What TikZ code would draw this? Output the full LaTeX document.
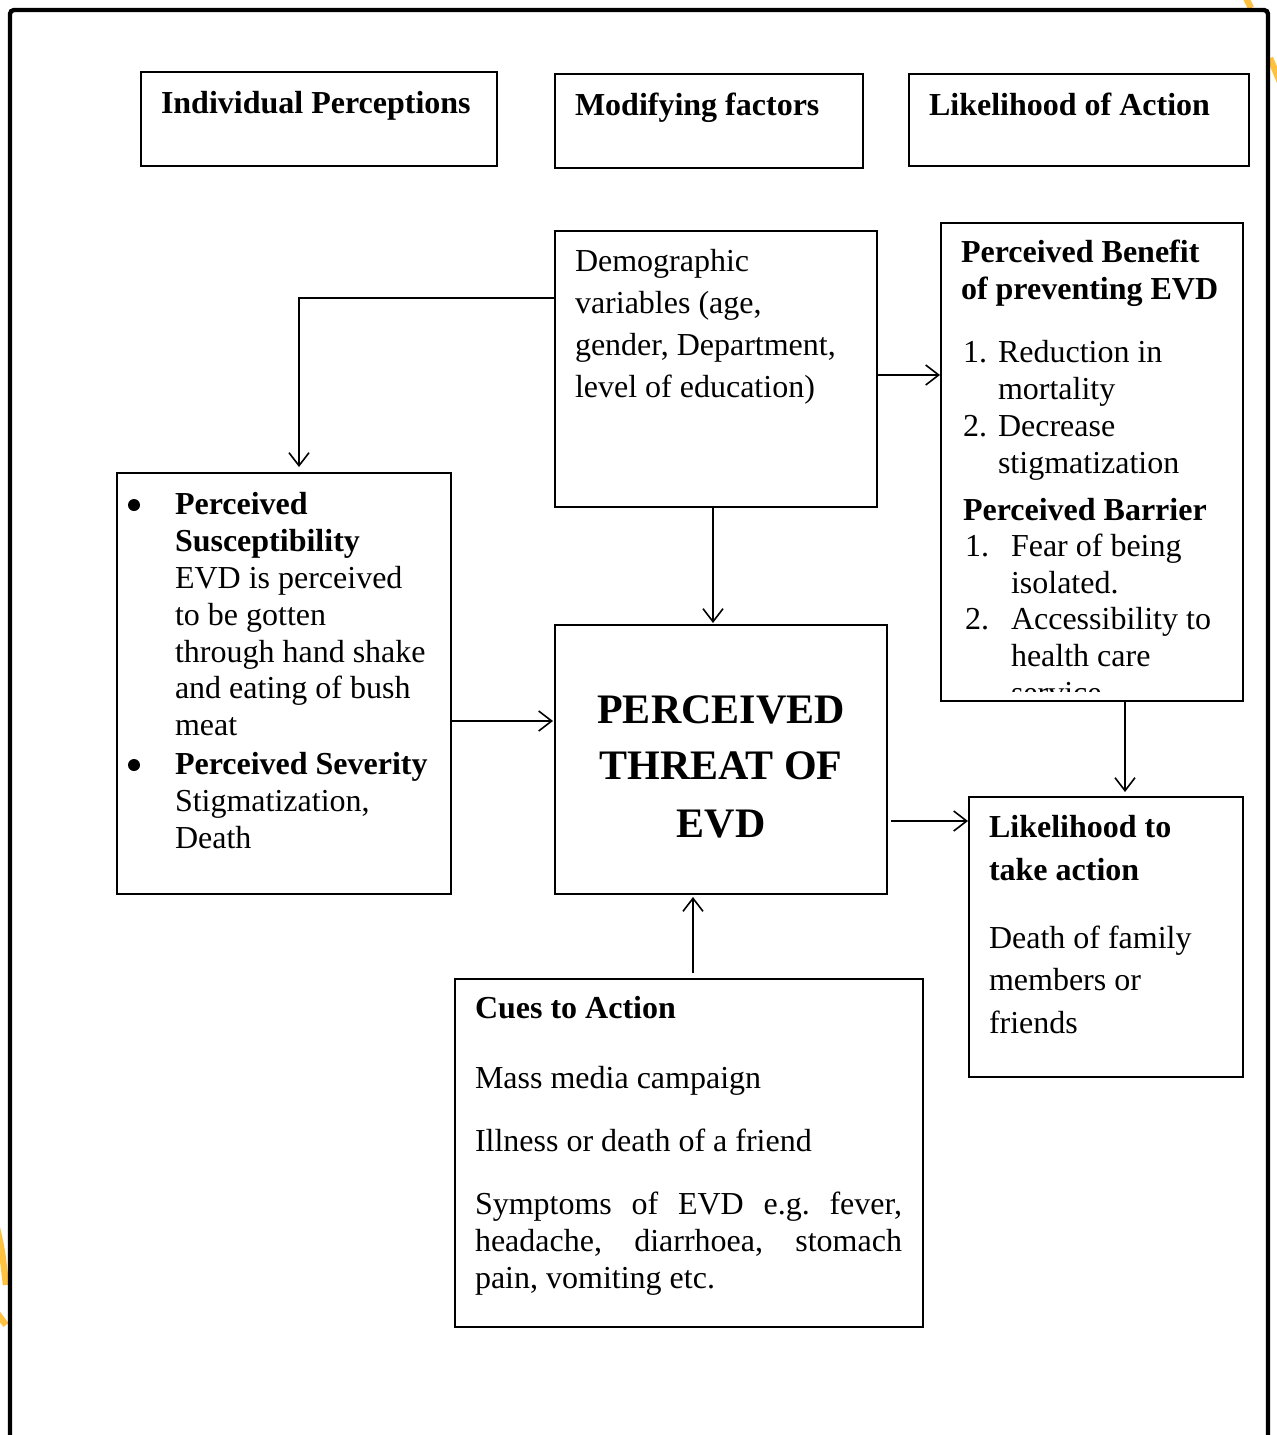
\documentclass[tikz,border=0pt]{standalone}
\usepackage{fontspec}
\setmainfont{Liberation Serif}
\usetikzlibrary{arrows.meta,calc}
\definecolor{markorange}{RGB}{255,194,64}
\begin{document}
\begin{tikzpicture}[x=0.5pt,y=-0.5pt,
  box/.style={draw, line width=0.7pt, inner sep=0pt, outer sep=0pt},
  arr/.style={-{Straight Barb[length=6.5pt,width=10pt]}, line width=0.8pt},
  txt/.style={anchor=base west, inner sep=0pt, outer sep=0pt, font=\fontsize{16}{19}\selectfont},
  btxt/.style={txt, font=\fontsize{16}{19}\selectfont\bfseries},
  big/.style={anchor=base, inner sep=0pt, outer sep=0pt, font=\fontsize{21}{25}\selectfont\bfseries},
  bul/.style={circle, fill=black, minimum size=6pt, inner sep=0pt},
  orange mark/.style={draw=markorange, line width=3.2pt}]
\useasboundingbox (0,0) rectangle (1277,1435);
% decorative orange fragments
\draw[orange mark] (1245,-4) -- (1251,8);
\draw[orange mark] (1270,58) -- (1280,82);
\draw[orange mark] (-3,1228) .. controls (2,1250) .. (6,1285);
\draw[orange mark] (-3,1313) -- (6,1325);
% outer frame
\draw[line width=2.2pt, rounded corners=2pt] (10,1436) -- (10,10) -- (1268,10) -- (1268,1436);

% header boxes
\node[box, minimum width=178pt, minimum height=47pt] (hIP) at (319,119) {};
\node[box, minimum width=154pt, minimum height=47pt] (hMF) at (709,121) {};
\node[box, minimum width=170pt, minimum height=46pt] (hLA) at (1079,120) {};
\node[btxt] (hIPt) at (161,113) {Individual Perceptions};
\node[btxt] (hMFt) at (575,115) {Modifying factors};
\node[btxt] (hLAt) at (929,115) {Likelihood of Action};

% main boxes
\node[box, minimum width=161pt, minimum height=138pt] (demo) at (716,369) {};
\node[box, minimum width=151pt, minimum height=239pt] (ben) at (1092,462) {};
\node[box, minimum width=167pt, minimum height=210.5pt] (left) at (284,683.5) {};
\node[box, minimum width=166pt, minimum height=134.5pt] (threat) at (721,759.5) {};
\node[box, minimum width=137pt, minimum height=140pt] (like) at (1106,937) {};
\node[box, minimum width=234pt, minimum height=174pt] (cues) at (689,1153) {};

% demographic text
\node[txt] (d1t) at (575,271) {Demographic};
\node[txt] (d2t) at (575,313) {variables (age,};
\node[txt] (d3t) at (575,355) {gender, Department,};
\node[txt] (d4t) at (575,397) {level of education)};

% benefit / barrier text
\begin{scope}
\clip (941,223) rectangle (1243,691);
\node[btxt] (b1t) at (961,262) {Perceived Benefit};
\node[btxt] (b2t) at (961,299) {of preventing EVD};
\node[txt] (b3n) at (963,362) {1.};
\node[txt] (b3t) at (998,362) {Reduction in};
\node[txt] (b4t) at (998,399) {mortality};
\node[txt] (b5n) at (963,436) {2.};
\node[txt] (b5t) at (998,436) {Decrease};
\node[txt] (b6t) at (998,473) {stigmatization};
\node[btxt] (b7t) at (963,520) {Perceived Barrier};
\node[txt] (b8n) at (965,556) {1.};
\node[txt] (b8t) at (1011,556) {Fear of being};
\node[txt] (b9t) at (1011,593) {isolated.};
\node[txt] (b10n) at (965,629) {2.};
\node[txt] (b10t) at (1011,629) {Accessibility to};
\node[txt] (b11t) at (1011,666) {health care};
\node[txt] (b12t) at (1011,703) {service};
\end{scope}

% left box text
\node[bul] (lb1) at (134,505) {};
\node[btxt] (l1t) at (175,514) {Perceived};
\node[btxt] (l2t) at (175,551) {Susceptibility};
\node[txt] (l3t) at (175,588) {EVD is perceived};
\node[txt] (l4t) at (175,625) {to be gotten};
\node[txt] (l5t) at (175,662) {through hand shake};
\node[txt] (l6t) at (175,698) {and eating of bush};
\node[txt] (l7t) at (175,735) {meat};
\node[bul] (lb2) at (134,765) {};
\node[btxt] (l8t) at (175,774) {Perceived Severity};
\node[txt] (l9t) at (175,811) {Stigmatization,};
\node[txt] (l10t) at (175,848) {Death};

% threat text
\node[big] (th1) at (721,723) {PERCEIVED};
\node[big] (th2) at (721,779) {THREAT OF};
\node[big] (th3) at (721,837) {EVD};

% likelihood text
\node[btxt] (k1t) at (989,837) {Likelihood to};
\node[btxt] (k2t) at (989,880) {take action};
\node[txt] (k3t) at (989,948) {Death of family};
\node[txt] (k4t) at (989,990) {members or};
\node[txt] (k5t) at (989,1033) {friends};

% cues text
\node[btxt] (c1t) at (475,1018) {Cues to Action};
\node[txt] (c2t) at (475,1088) {Mass media campaign};
\node[txt] (c3t) at (475,1151) {Illness or death of a friend};
\node[txt] (c4t) at (475,1214) {\frenchspacing\makebox[213.5pt][s]{Symptoms of EVD e.g. fever,}};
\node[txt] (c5t) at (475,1251) {\makebox[213.5pt][s]{headache, diarrhoea, stomach}};
\node[txt] (c6t) at (475,1288) {pain, vomiting etc.};

% connectors
\coordinate (p1) at ([yshift=-33.5pt]demo.north west);
\coordinate (p2) at ([xshift=7.5pt,yshift=3pt]left.north);
\draw[arr] (p1) -| (p2);
\coordinate (p3) at ([yshift=-3pt]demo.east);
\draw[arr, shorten >=0.5pt] (p3) -- (p3 -| ben.west);
\coordinate (p4) at ([xshift=-1.5pt]demo.south);
\draw[arr, shorten >=1pt] (p4) -- (p4 |- threat.north);
\coordinate (p5) at ([yshift=-18.75pt]left.east);
\draw[arr, shorten >=1pt] (p5) -- (p5 -| threat.west);
\coordinate (p6) at ([xshift=2pt]cues.north);
\draw[arr, shorten <=3pt, shorten >=1.5pt] (p6) -- (p6 |- threat.south);
\coordinate (p7) at ([xshift=16.5pt]ben.south);
\draw[arr, shorten >=2.5pt] (p7) -- (p7 |- like.north);
\coordinate (p8) at ([yshift=-30.75pt]threat.east);
\draw[arr, shorten <=2pt, shorten >=0.5pt] (p8) -- (p8 -| like.west);
\end{tikzpicture}
\end{document}
